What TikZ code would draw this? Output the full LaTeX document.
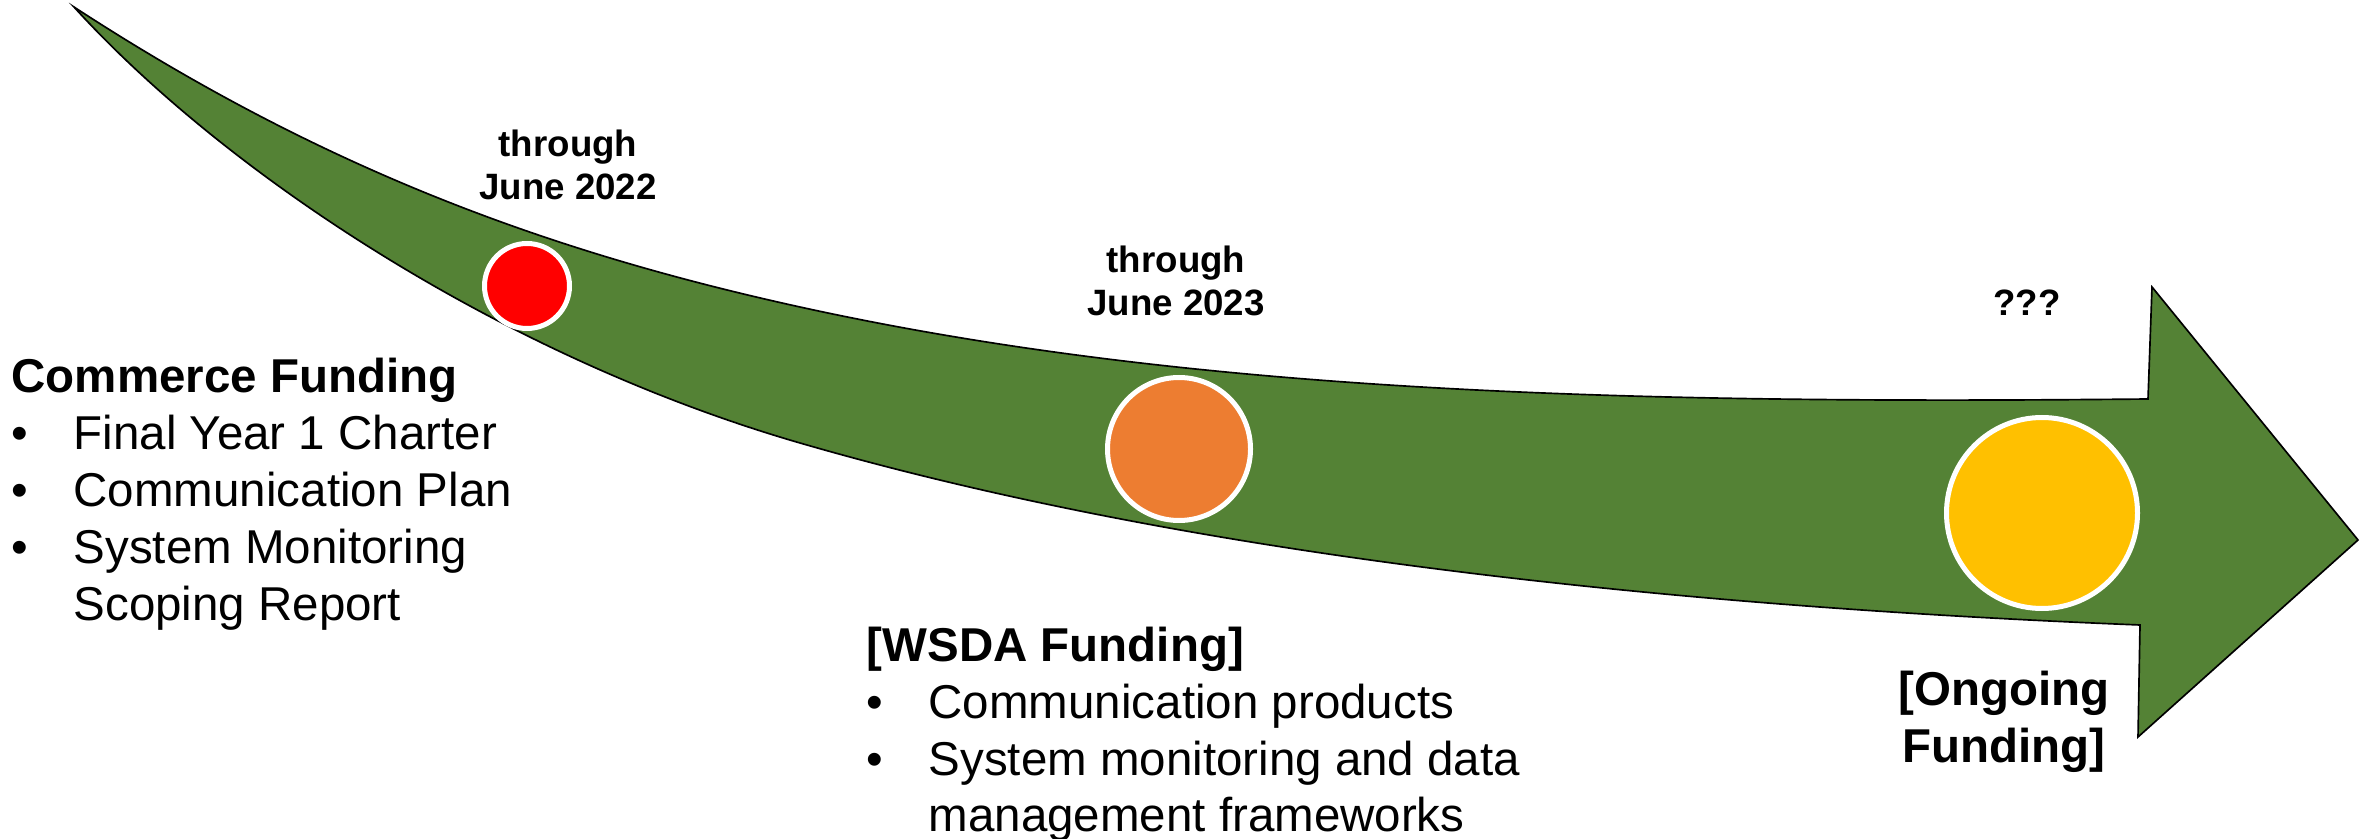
\documentclass[tikz,border=0pt]{standalone}
\usepackage{fontspec}
\setmainfont{Liberation Sans}
\definecolor{arrowgreen}{HTML}{548235}
\definecolor{dotred}{HTML}{FF0000}
\definecolor{dotorange}{HTML}{ED7D31}
\definecolor{dotyellow}{HTML}{FFC000}
\newcommand{\bigtext}{\fontsize{14.25}{17.1}\selectfont}
\newcommand{\smalltext}{\fontsize{11}{12.9}\selectfont}
\newcommand{\bullitem}{\makebox[18.6pt][l]{\textbullet}}
\tikzset{
  milestone/.style={circle, draw=white, line width=1.5pt, inner sep=0pt},
  datelabel/.style={anchor=base, inner sep=0pt, font=\smalltext\bfseries},
  fundlabel/.style={anchor=base west, inner sep=0pt, font=\bigtext},
}

\begin{document}
\begin{tikzpicture}[x=0.3pt, y=-0.3pt]
	\useasboundingbox (0,0) rectangle (2380,839);
	% the curved arrow
	\filldraw[fill=arrowgreen, draw=black, line width=0.5pt]
		(74,7) .. controls (324,170) and (550,252) .. (800,307)
		.. controls (1200,395) and (1648,404) .. (2148,399)
		-- (2152,287) -- (2358,540) -- (2138,737) -- (2140,625)
		.. controls (1690,607) and (1200,559) .. (800,443)
		.. controls (500,356) and (224,172) .. (74,7)
		-- cycle;
	% milestones
	\node (m2022) [milestone, fill=dotred, minimum size=25.5pt] at (527,286) {};
	\node (m2023) [milestone, fill=dotorange, minimum size=42.9pt] at (1179,449) {};
	\node (mnext) [milestone, fill=dotyellow, minimum size=57.3pt] at (2042,513) {};
	\node (d2022) [datelabel] at (568,157) {\begin{tabular}[t]{@{}c@{}}through\\June 2022\end{tabular}};
	\node (d2023) [datelabel] at (1176,273) {\begin{tabular}[t]{@{}c@{}}through\\June 2023\end{tabular}};
	\node (dnext) [datelabel] at (2027,316) {???};
	% funding
	\node (commerce) [fundlabel] at (11,393) {\begin{tabular}[t]{@{}l@{}l@{}}
		\multicolumn{2}{@{}l@{}}{\bfseries Commerce Funding}\\
		\bullitem & Final Year 1 Charter\\
		\bullitem & Communication Plan\\
		\bullitem & System Monitoring\\
		          & Scoping Report
	\end{tabular}};
	\node (wsda) [fundlabel] at (866,661) {\begin{tabular}[t]{@{}l@{}l@{}}
		\multicolumn{2}{@{}l@{}}{\bfseries [WSDA Funding]}\\
		\bullitem & Communication products\\
		\bullitem & System monitoring and data\\
		          & management frameworks
	\end{tabular}};
	\node (ongoing) [anchor=base, inner sep=0pt, font=\bigtext\bfseries] at (2004,705) {\begin{tabular}[t]{@{}c@{}}[Ongoing\\Funding]\end{tabular}};
\end{tikzpicture}
\end{document}
